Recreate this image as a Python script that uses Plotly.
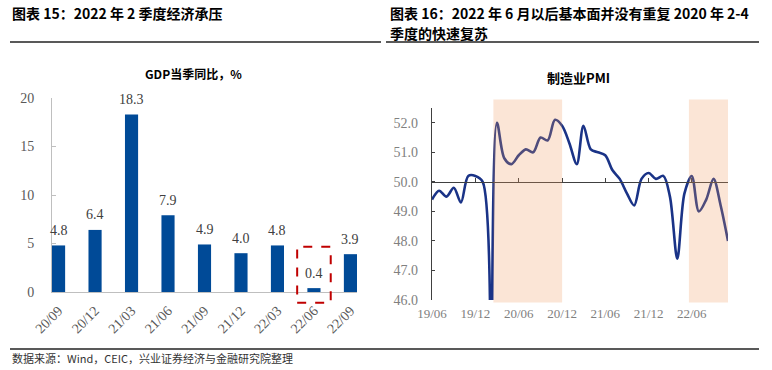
import plotly.graph_objects as go

W, H = 772, 370

# ---------------- data ----------------
gdp_quarters = ["20/09", "20/12", "21/03", "21/06", "21/09", "21/12", "22/03", "22/06", "22/09"]
gdp_values = [4.8, 6.4, 18.3, 7.9, 4.9, 4.0, 4.8, 0.4, 3.9]
gdp_ticks = [0, 5, 10, 15, 20]
highlight_quarter = "22/06"

pmi_months = [
    "2019-06", "2019-07", "2019-08", "2019-09", "2019-10", "2019-11", "2019-12",
    "2020-01", "2020-02", "2020-03", "2020-04", "2020-05", "2020-06", "2020-07",
    "2020-08", "2020-09", "2020-10", "2020-11", "2020-12",
    "2021-01", "2021-02", "2021-03", "2021-04", "2021-05", "2021-06", "2021-07",
    "2021-08", "2021-09", "2021-10", "2021-11", "2021-12",
    "2022-01", "2022-02", "2022-03", "2022-04", "2022-05", "2022-06", "2022-07",
    "2022-08", "2022-09", "2022-10", "2022-11",
]
pmi_values = [
    49.4, 49.7, 49.5, 49.8, 49.3, 50.2, 50.2,
    50.0, 35.7, 52.0, 50.8, 50.6, 50.9, 51.1,
    51.0, 51.5, 51.4, 52.1, 51.9,
    51.3, 50.6, 51.9, 51.1, 51.0, 50.9, 50.4,
    50.1, 49.6, 49.2, 50.1, 50.3,
    50.1, 50.2, 49.5, 47.4, 49.6, 50.2, 49.0,
    49.4, 50.1, 49.2, 48.0,
]
pmi_ticks = [46, 47, 48, 49, 50, 51, 52]
pmi_tick_months = ["2019-06-01", "2019-12-01", "2020-06-01", "2020-12-01",
                   "2021-06-01", "2021-12-01", "2022-06-01"]
pmi_tick_labels = ["19/06", "19/12", "20/06", "20/12", "21/06", "21/12", "22/06"]
shade_periods = [("2020-02-15", "2020-12-01"), ("2022-05-20", "2022-11-01")]
pmi_baseline = 50

# ---------------- layout helpers ----------------
def px(p):
    return p / W

def py(p):
    return 1 - p / H

L_XDOM = [px(52), px(357)]
L_YDOM = [py(292), py(98)]
L_YR = [0, 20]
L_XR = [-0.18, len(gdp_quarters) - 1 + 0.18]

R_XDOM = [px(432), px(728)]
R_YDOM = [py(300), py(108)]
R_YR = [46, 52.5]
R_XR = ["2019-06-01", "2022-11-01"]

def l_ypaper(v):
    return L_YDOM[0] + (v - L_YR[0]) / (L_YR[1] - L_YR[0]) * (L_YDOM[1] - L_YDOM[0])

def r_ypaper(v):
    return R_YDOM[0] + (v - R_YR[0]) / (R_YR[1] - R_YR[0]) * (R_YDOM[1] - R_YDOM[0])

SERIF = "Liberation Serif"
CJK = "Noto Sans CJK SC"

fig = go.Figure()

# ---------------- left: GDP bars ----------------
fig.add_trace(go.Bar(
    x=gdp_quarters, y=gdp_values, xaxis="x", yaxis="y",
    marker=dict(color="#004A97", line=dict(width=0)),
    width=0.36, showlegend=False, hoverinfo="skip",
))
annotations = []
for q, v in zip(gdp_quarters, gdp_values):
    annotations.append(dict(
        x=q, y=v, xref="x", yref="y", text=f"{v:.1f}", showarrow=False,
        yanchor="middle", yshift=15,
        font=dict(family=SERIF, size=14, color="#404040"),
    ))

# ---------------- right: PMI line ----------------
fig.add_trace(go.Scatter(
    x=pmi_months, y=pmi_values, xaxis="x2", yaxis="y2", mode="lines",
    line=dict(color="#1A3387", width=2.6, shape="spline", smoothing=0.9),
    showlegend=False, hoverinfo="skip",
))
# invisible twin trace that carries the baseline axis at 50
fig.add_trace(go.Scatter(
    x=pmi_months, y=pmi_values, xaxis="x3", yaxis="y2", mode="lines",
    line=dict(color="rgba(0,0,0,0)", width=0),
    showlegend=False, hoverinfo="skip",
))

shapes = []
for s, e in shade_periods:
    shapes.append(dict(
        type="rect", xref="x2", yref="paper", x0=s, x1=e, y0=py(302.5), y1=py(99.5),
        fillcolor="rgb(239,151,91)", opacity=0.25, line=dict(width=0), layer="above",
    ))

# red dashed highlight box
hi = gdp_quarters.index(highlight_quarter)
hv = gdp_values[hi]
shapes.append(dict(
    type="rect", xref="x", yref="paper", x0=hi - 0.46, x1=hi + 0.46,
    y0=l_ypaper(-1.1), y1=l_ypaper(hv + 4.27),
    line=dict(color="#C00000", width=2, dash="dash"), fillcolor="rgba(0,0,0,0)", layer="above",
))

# header rules
for x0, x1, y in [(10, 381, 42), (386, 759, 42), (10, 759, 349)]:
    shapes.append(dict(type="line", xref="paper", yref="paper", x0=px(x0), x1=px(x1),
                       y0=py(y), y1=py(y), line=dict(color="#222222", width=1.5)))

# headers and titles
head_font = dict(family=CJK, size=14, color="#000000", weight="bold")
annotations += [
    dict(x=px(10), y=py(13), xref="paper", yref="paper", xanchor="left", yanchor="middle",
         text="图表 15：2022 年 2 季度经济承压", showarrow=False, font=head_font),
    dict(x=px(388), y=py(13), xref="paper", yref="paper", xanchor="left", yanchor="middle",
         text="图表 16：2022 年 6 月以后基本面并没有重复 2020 年 2-4", showarrow=False, font=head_font),
    dict(x=px(388), y=py(33), xref="paper", yref="paper", xanchor="left", yanchor="middle",
         text="季度的快速复苏", showarrow=False, font=head_font),
    dict(x=px(193), y=py(73), xref="paper", yref="paper", xanchor="center", yanchor="middle",
         text="GDP当季同比，%", showarrow=False,
         font=dict(family=CJK, size=12, color="#000000", weight="bold")),
    dict(x=px(578), y=py(77), xref="paper", yref="paper", xanchor="center", yanchor="middle",
         text="制造业PMI", showarrow=False,
         font=dict(family=CJK, size=13, color="#000000", weight="bold")),
    dict(x=px(10), y=py(358), xref="paper", yref="paper", xanchor="left", yanchor="middle",
         text="数据来源：Wind，CEIC，兴业证券经济与金融研究院整理", showarrow=False,
         font=dict(family=CJK, size=11, color="#333333")),
]

fig.update_layout(
    template="none",
    width=W, height=H, margin=dict(l=0, r=0, t=0, b=0, autoexpand=False),
    paper_bgcolor="white", plot_bgcolor="rgba(0,0,0,0)",
    showlegend=False,
    xaxis=dict(
        domain=L_XDOM, anchor="y", type="category", range=L_XR, automargin=False,
        showline=True, linecolor="#bfbfbf", linewidth=1, ticks="", showgrid=False,
        tickangle=-45, tickfont=dict(family=SERIF, size=14, color="#595959"),
        ticklabelstandoff=4,
    ),
    yaxis=dict(
        domain=L_YDOM, anchor="x", range=L_YR, tickvals=gdp_ticks, automargin=False,
        showline=True, linecolor="#bfbfbf", linewidth=1, ticks="inside", ticklen=4,
        tickcolor="#bfbfbf", showgrid=False, zeroline=False,
        tickfont=dict(family=SERIF, size=14, color="#595959"), ticklabelstandoff=14,
    ),
    xaxis2=dict(
        domain=R_XDOM, anchor="y2", type="date", range=R_XR, automargin=False,
        tickvals=pmi_tick_months, ticktext=pmi_tick_labels,
        showline=False, ticks="", showgrid=False, zeroline=False,
        tickfont=dict(family=SERIF, size=13, color="#808080"), ticklabelstandoff=4,
    ),
    xaxis3=dict(
        domain=R_XDOM, anchor="free", overlaying="x2", position=r_ypaper(pmi_baseline),
        type="date", range=R_XR, tickvals=pmi_tick_months, showticklabels=False,
        automargin=False,
        showline=True, linecolor="#404040", linewidth=1.2, ticks="inside", ticklen=4,
        tickcolor="#404040", showgrid=False, zeroline=False,
    ),
    yaxis2=dict(
        domain=R_YDOM, anchor="x2", range=R_YR, tickvals=pmi_ticks, tickformat=".1f",
        automargin=False,
        showline=True, linecolor="#404040", linewidth=1.2, ticks="inside", ticklen=3,
        tickcolor="#404040", showgrid=False, zeroline=False,
        tickfont=dict(family=SERIF, size=14, color="#808080"), ticklabelstandoff=10,
    ),
    shapes=shapes, annotations=annotations,
)

fig.write_html("out.html", config={"displayModeBar": False},
               post_script="document.body.style.margin='0';")
